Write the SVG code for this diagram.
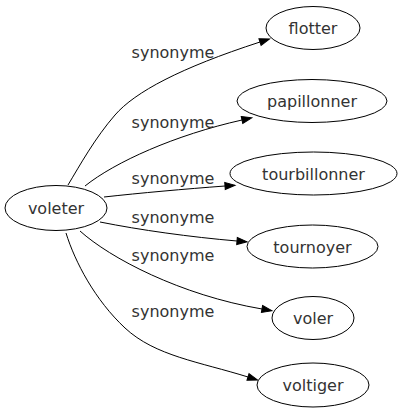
<svg xmlns="http://www.w3.org/2000/svg" width="400" height="419" viewBox="0 0 400 419">
<defs>
<style>
.node ellipse{fill:none;stroke:#000;stroke-width:1}
.node text{font-family:"DejaVu Sans",sans-serif;font-size:16px;fill:#333;text-anchor:middle}
.edges path{fill:none;stroke:#000;stroke-width:1;marker-end:url(#arr)}
.edges text{font-family:"DejaVu Sans",sans-serif;font-size:16px;fill:#333;text-anchor:middle}
</style>
<marker id="arr" markerUnits="userSpaceOnUse" markerWidth="12" markerHeight="10" refX="0" refY="4" orient="auto" viewBox="0 -1 12 10" overflow="visible">
<path d="M0,0.5 L10,4 L0,7.5 z" fill="#000" stroke="#000" stroke-width="1"/>
</marker>
</defs>
<rect width="400" height="419" fill="#fff"/>
<g class="edges" id="edges">
<path d="M68,185 C80,165 95,138 115,115 S180,68 260,42"/>
<text x="173" y="58">synonyme</text>
<path d="M85,186 C115,162 175,135 242,120"/>
<text x="173" y="128">synonyme</text>
<path d="M104,197 C140,193 185,189 225,186"/>
<text x="173" y="184">synonyme</text>
<path d="M100,222 C140,230 190,237 237,241"/>
<text x="173" y="223">synonyme</text>
<path d="M80,231 C110,258 180,295 262,309"/>
<text x="173" y="261">synonyme</text>
<path d="M66,233 C75,262 95,300 125,328 S200,362 248,377"/>
<text x="173" y="317">synonyme</text>
</g>
<g class="node" id="voleter"><ellipse cx="56" cy="208" rx="51" ry="22.5"/><text x="56" y="214">voleter</text></g>
<g class="node" id="flotter"><ellipse cx="313" cy="28" rx="47" ry="21.5"/><text x="313" y="34">flotter</text></g>
<g class="node" id="papillonner"><ellipse cx="312" cy="101" rx="75" ry="21.5"/><text x="312" y="107">papillonner</text></g>
<g class="node" id="tourbillonner"><ellipse cx="313.5" cy="173.5" rx="83.5" ry="21.5"/><text x="313.5" y="179.5">tourbillonner</text></g>
<g class="node" id="tournoyer"><ellipse cx="312.5" cy="246.5" rx="65.5" ry="21.5"/><text x="312.5" y="252.5">tournoyer</text></g>
<g class="node" id="voler"><ellipse cx="313" cy="318" rx="41" ry="21.5"/><text x="313" y="324">voler</text></g>
<g class="node" id="voltiger"><ellipse cx="313" cy="385" rx="56" ry="22"/><text x="313" y="391">voltiger</text></g>
</svg>
